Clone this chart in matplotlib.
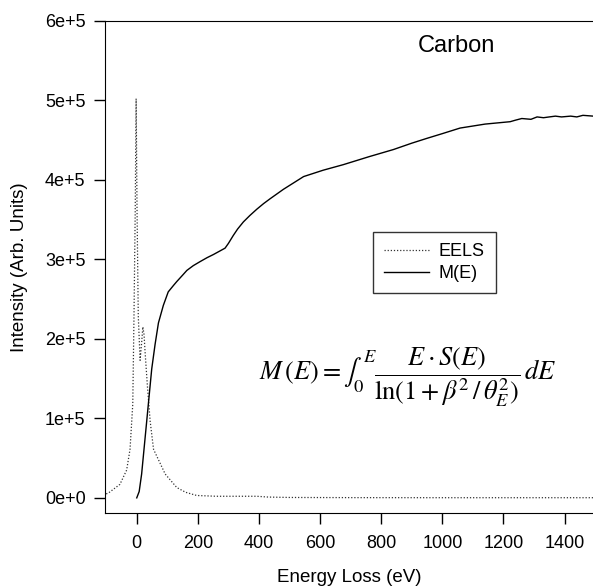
import matplotlib
matplotlib.use("Agg")
import matplotlib.pyplot as plt

plt.rcParams['font.family'] = ['Liberation Sans', 'DejaVu Sans']
plt.rcParams['mathtext.fontset'] = 'stix'

# EELS spectrum (dotted)
eels_e = [-100, -93, -55, -33, -22, -13, -9, -5, -2, 1, 5, 11, 16, 20, 24, 27, 35, 44,
          55, 71, 93, 131, 160, 196, 260, 330, 393, 430, 500, 700, 1000, 1300, 1500]
eels_i = [0.05e5, 0.06e5, 0.17e5, 0.35e5, 0.61e5, 1.18e5, 2.29e5, 3.6e5, 5.02e5, 3.6e5,
          2.29e5, 1.73e5, 1.95e5, 2.15e5, 2.05e5, 1.85e5, 1.40e5, 0.96e5,
          0.61e5, 0.48e5, 0.30e5, 0.13e5, 0.07e5, 0.03e5, 0.02e5, 0.02e5, 0.02e5,
          0.01e5, 0.005e5, 0.003e5, 0.002e5, 0.002e5, 0.002e5]

# M(E) integral (solid)
m_e = [0, 8, 16, 27, 38, 49, 60, 71, 87, 103, 120, 131, 150, 164, 185, 207, 230, 251,
       270, 289, 300, 316, 330, 349, 370, 393, 415, 436, 480, 546, 610, 676, 760, 840,
       900, 949, 1000, 1058, 1140, 1222, 1240, 1260, 1290, 1310, 1331, 1350, 1370,
       1390, 1420, 1440, 1460, 1494]
m_i = [0, 0.08, 0.30, 0.74, 1.18, 1.62, 1.93, 2.20, 2.42, 2.59, 2.67, 2.72, 2.80, 2.86,
       2.92, 2.97, 3.02, 3.06, 3.10, 3.14, 3.20, 3.30, 3.38, 3.47, 3.55, 3.63, 3.70,
       3.76, 3.88, 4.04, 4.12, 4.19, 4.29, 4.38, 4.46, 4.52, 4.58, 4.65, 4.70, 4.73,
       4.75, 4.77, 4.76, 4.79, 4.78, 4.79, 4.80, 4.79, 4.80, 4.79, 4.81, 4.80]
m_i = [v * 1e5 for v in m_i]

x_ticks = [0, 200, 400, 600, 800, 1000, 1200, 1400]
y_ticks = [0, 1e5, 2e5, 3e5, 4e5, 5e5, 6e5]
y_labels = ["0e+0", "1e+5", "2e+5", "3e+5", "4e+5", "5e+5", "6e+5"]

fig = plt.figure(figsize=(5.93, 5.88), dpi=100)
ax = fig.add_axes([0.177, 0.1276, 0.823, 0.8372])

ax.plot(eels_e, eels_i, linestyle=(0, (1, 1.5)), color='#333333', lw=0.9, label='EELS')
ax.plot(m_e, m_i, color='black', lw=1.0, label='M(E)')

ax.set_xlim(-104, 1493)
ax.set_ylim(-0.19e5, 6e5)
ax.set_xticks(x_ticks)
ax.set_yticks(y_ticks)
ax.set_yticklabels(y_labels)
ax.tick_params(direction='out', length=8, width=1, labelsize=13)
ax.tick_params(axis='y', pad=6)
ax.tick_params(axis='x', pad=8)
ax.spines['right'].set_visible(False)

ax.set_xlabel("Energy Loss (eV)", fontsize=13.5, labelpad=12)
ax.set_ylabel("Intensity (Arb. Units)", fontsize=13.5, labelpad=12)

leg = ax.legend(loc='upper left', bbox_to_anchor=(373 / 593, 1 - 232 / 588),
                bbox_transform=fig.transFigure, borderaxespad=0, fontsize=13,
                frameon=True, fancybox=False, edgecolor='black', handlelength=2.5,
                handletextpad=0.55, borderpad=0.6, labelspacing=0.3)
leg.get_frame().set_linewidth(1.0)

ax.text(456 / 593, 1 - 46 / 588, "Carbon", transform=fig.transFigure,
        fontsize=17, ha='center', va='center')
ax.text(408 / 593, 1 - 377 / 588,
        r"$M\,(E) = \int_0^E \dfrac{E \cdot S(E)}{\ln(1 + \beta^2\,/\,\theta_E^2)}\,dE$",
        transform=fig.transFigure, fontsize=19, ha='center', va='center')

plt.savefig("out.png", dpi=100)
